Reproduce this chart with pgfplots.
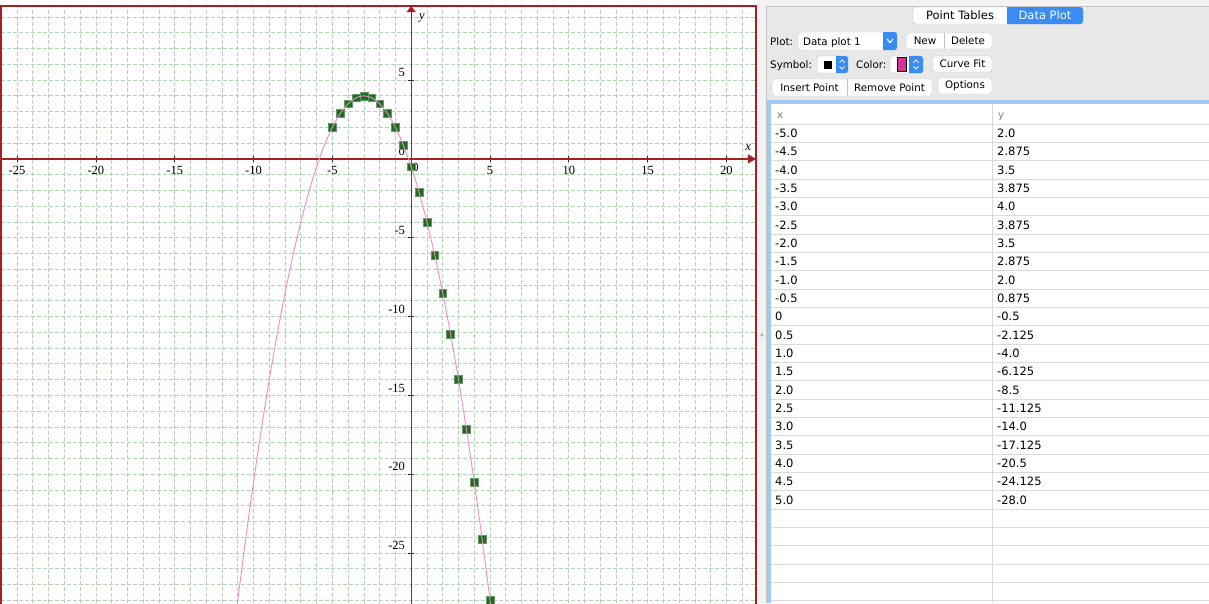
\documentclass[border=0pt]{standalone}
\usepackage{fontspec}
\setmainfont{Liberation Serif}
\newfontfamily\uifont{DejaVu Sans}
\usepackage{pgfplots}
\pgfplotsset{compat=1.18}
\usetikzlibrary{arrows.meta}

\definecolor{axisred}{RGB}{165,32,38}
\definecolor{gridgreen}{RGB}{180,212,180}
\definecolor{markgreen}{RGB}{28,110,30}
\definecolor{curvepink}{RGB}{240,140,200}
\definecolor{panelgray}{RGB}{232,232,232}
\definecolor{stripgray}{RGB}{242,242,242}
\definecolor{tabblue}{RGB}{58,140,245}
\definecolor{ringblue}{RGB}{160,202,242}
\definecolor{rowline}{RGB}{218,218,218}
\definecolor{btnborder}{RGB}{196,196,196}
\definecolor{swatch}{RGB}{215,50,150}

\newcommand{\tickfont}{\fontsize{12.5}{13}\selectfont}
\newcommand{\uibig}{\uifont\fontsize{11.5}{13}\selectfont}
\newcommand{\uismall}{\uifont\fontsize{10.3}{12}\selectfont}

\begin{document}
\begin{tikzpicture}
\useasboundingbox (0,0) rectangle (1209pt,-603pt);
\clip (0,0) rectangle (1209pt,-603pt);
\fill[white] (0,0) rectangle (1209pt,-603pt);

\begin{axis}[
  at={(1pt,-6pt)}, anchor=north west,
  x=15.764pt, y=15.764pt,
  xmin=-26.02, xmax=21.87, ymin=-28.9, ymax=9.70,
  axis lines=middle,
  x axis line style={draw=axisred, line width=1.3pt, -{Triangle[length=8pt,width=9pt]}},
  y axis line style={draw=axisred, line width=1.3pt, -{Triangle[length=6pt,width=9pt]}},
  xtick={-25,-20,-15,-10,-5,5,10,15,20},
  xticklabels={-25,-20,-15,-10,-5,5,10,15,20},
  ytick={-25,-20,-15,-10,-5,0,5},
  yticklabels={-25,-20,-15,-10,-5,0,5},
  minor xtick={-26,-25,...,21},
  minor ytick={-28,-27,...,9},
  grid=both,
  major grid style={gridgreen, dash pattern=on 4pt off 2pt, line width=0.75pt},
  minor grid style={gridgreen, dash pattern=on 4pt off 2pt, line width=0.75pt},
  tick align=center,
  major tick length=6pt, minor tick length=0pt,
  major tick style={black!85, line width=0.7pt},
  hide obscured x ticks=false, hide obscured y ticks=false,
  tick label style={font=\tickfont},
  xticklabel style={anchor=north, yshift=-0.5pt},
  yticklabel style={anchor=south east, inner sep=3pt},
  clip mode=individual,
]
% origin label on the x axis, set just right of the y axis
\node[font=\tickfont, anchor=north, yshift=-0.5pt] at (axis cs:0.27,0) {0};

% data points of "Data plot 1"
\addplot[only marks, mark=square*, mark size=3.9pt,
  mark options={fill=markgreen, draw=markgreen!70!white, line width=0.5pt}]
  coordinates {
  (-5.0,2.0) (-4.5,2.875) (-4.0,3.5) (-3.5,3.875) (-3.0,4.0) (-2.5,3.875)
  (-2.0,3.5) (-1.5,2.875) (-1.0,2.0) (-0.5,0.875) (0,-0.5) (0.5,-2.125)
  (1.0,-4.0) (1.5,-6.125) (2.0,-8.5) (2.5,-11.125) (3.0,-14.0)
  (3.5,-17.125) (4.0,-20.5) (4.5,-24.125) (5.0,-28.0)
  };

% fitted curve
\addplot[curvepink, line width=0.9pt, smooth, no marks] coordinates {
  (-11.5,-32.125) (-11.0,-28.0) (-10.5,-24.125) (-10.0,-20.5) (-9.5,-17.125)
  (-9.0,-14.0) (-8.5,-11.125) (-8.0,-8.5) (-7.5,-6.125) (-7.0,-4.0)
  (-6.5,-2.125) (-6.0,-0.5) (-5.5,0.875) (-5.0,2.0) (-4.5,2.875) (-4.0,3.5)
  (-3.5,3.875) (-3.0,4.0) (-2.5,3.875) (-2.0,3.5) (-1.5,2.875) (-1.0,2.0)
  (-0.5,0.875) (0,-0.5) (0.5,-2.125) (1.0,-4.0) (1.5,-6.125) (2.0,-8.5)
  (2.5,-11.125) (3.0,-14.0) (3.5,-17.125) (4.0,-20.5) (4.5,-24.125)
  (5.0,-28.0) (5.5,-32.125)
  };

\node[font=\tickfont\itshape] at (axis cs:21.37,0.70) {x};
\node[font=\tickfont\itshape] at (axis cs:0.685,8.94) {y};

% window frame
\draw[axisred, line width=1.6pt] (rel axis cs:0,0) -- (rel axis cs:0,1)
  -- (rel axis cs:1,1) -- (rel axis cs:1,0);
\end{axis}

% side panel (pixel units, y downwards)
\begin{scope}[x=1pt, y=-1pt]
  \fill[stripgray] (757,0) rectangle (1209,603);
  \fill[gray!55] (762,335) circle (1.8);
  \fill[panelgray] (766,6) rectangle (1209,603);
  \draw[btnborder] (766.5,603) -- (766.5,6.5) -- (1209,6.5);

  % tab switch
  \draw[btnborder, fill=white, rounded corners=3pt] (913,7) rectangle (1083,24);
  \begin{scope}
    \clip (1007,0) rectangle (1090,30);
    \fill[tabblue, rounded corners=3pt] (995,7) rectangle (1083,24);
  \end{scope}
  \node[font=\uibig] at (960,15.5) {Point Tables};
  \node[font=\uibig, text=white] at (1045,15.5) {Data Plot};

  % row 1: plot chooser
  \node[font=\uismall, anchor=base west, inner sep=0pt] at (770,45) {Plot:};
  \draw[btnborder, fill=white, rounded corners=2.5pt] (798,32) rectangle (897,50);
  \begin{scope}
    \clip (883,30) rectangle (899,52);
    \fill[tabblue, rounded corners=2.5pt] (875,32) rectangle (897,50);
  \end{scope}
  \draw[white, line width=1.2pt] (887,39) -- (890,42.5) -- (893,39);
  \node[font=\uismall, anchor=base west, inner sep=0pt] at (803,45) {Data plot 1};
  \draw[btnborder, fill=white, rounded corners=2.5pt] (906,33) rectangle (992,49);
  \draw[btnborder] (944,33) -- (944,49);
  \node[font=\uismall] at (925,41) {New};
  \node[font=\uismall] at (968,41) {Delete};

  % row 2: symbol, colour, curve fit
  \node[font=\uismall, anchor=base west, inner sep=0pt] at (770,68) {Symbol:};
  \draw[btnborder, fill=white, rounded corners=2.5pt] (817,56) rectangle (848,73);
  \fill[black] (824,60.5) rectangle (832,68.5);
  \begin{scope}
    \clip (836,54) rectangle (850,75);
    \fill[tabblue, rounded corners=2.5pt] (830,56) rectangle (848,73);
  \end{scope}
  \draw[white, line width=0.9pt] (839.5,62.5) -- (842,60) -- (844.5,62.5);
  \draw[white, line width=0.9pt] (839.5,66.5) -- (842,69) -- (844.5,66.5);
  \node[font=\uismall, anchor=base west, inner sep=0pt] at (856,68) {Color:};
  \draw[btnborder, fill=white, rounded corners=2.5pt] (890,56) rectangle (923,73);
  \draw[black, fill=swatch, line width=0.6pt] (897,57.5) rectangle (906.5,71.5);
  \begin{scope}
    \clip (909,54) rectangle (925,75);
    \fill[tabblue, rounded corners=2.5pt] (900,56) rectangle (923,73);
  \end{scope}
  \draw[white, line width=0.9pt] (913.5,62.5) -- (916,60) -- (918.5,62.5);
  \draw[white, line width=0.9pt] (913.5,66.5) -- (916,69) -- (918.5,66.5);
  \draw[btnborder, fill=white, rounded corners=2.5pt] (933,56) rectangle (992,72);
  \node[font=\uismall] at (962.5,64) {Curve Fit};

  % row 3: point editing
  \draw[btnborder, fill=white, rounded corners=2.5pt] (772,79) rectangle (932,96);
  \draw[btnborder] (847,79) -- (847,96);
  \node[font=\uismall] at (809.5,87.5) {Insert Point};
  \node[font=\uismall] at (889.5,87.5) {Remove Point};
  \draw[btnborder, fill=white, rounded corners=2.5pt] (938,78) rectangle (992,94);
  \node[font=\uismall] at (965,86) {Options};

  % point table
  \fill[ringblue] (767,100) rectangle (1209,603);
  \fill[white] (771,103.5) rectangle (1209,603);
  \draw[rowline] (992.5,104) -- (992.5,603);
  \node[font=\uismall, text=gray, anchor=base west, inner sep=0pt] at (777,118) {x};
  \node[font=\uismall, text=gray, anchor=base west, inner sep=0pt] at (998,118) {y};
  \foreach \i in {0,...,26} {
    \draw[rowline, line width=0.8pt] (771,{124+\i*18.333}) -- (1209,{124+\i*18.333});
  }
  \foreach [count=\i from 0] \xv/\yv in {
    -5.0/2.0, -4.5/2.875, -4.0/3.5, -3.5/3.875, -3.0/4.0, -2.5/3.875,
    -2.0/3.5, -1.5/2.875, -1.0/2.0, -0.5/0.875, 0/-0.5, 0.5/-2.125,
    1.0/-4.0, 1.5/-6.125, 2.0/-8.5, 2.5/-11.125, 3.0/-14.0,
    3.5/-17.125, 4.0/-20.5, 4.5/-24.125, 5.0/-28.0} {
    \node[font=\uibig, anchor=base west, inner sep=0pt] at (775,{137.6+\i*18.333}) {\xv};
    \node[font=\uibig, anchor=base west, inner sep=0pt] at (997,{137.6+\i*18.333}) {\yv};
  }
\end{scope}
\end{tikzpicture}
\end{document}
